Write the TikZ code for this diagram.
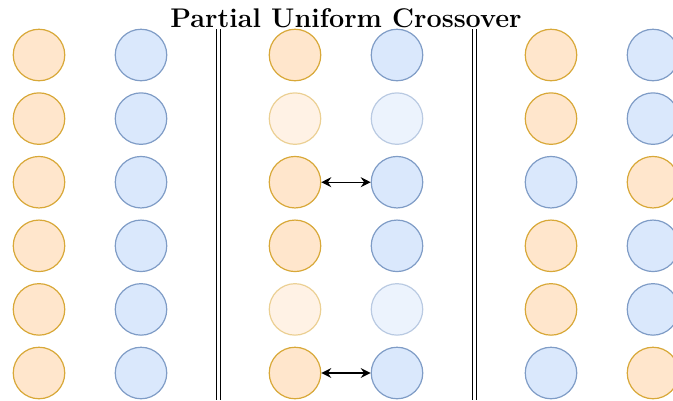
\documentclass[tikz,border=0pt]{standalone}
\usetikzlibrary{arrows.meta}
\definecolor{orfill}{HTML}{FFE6CC}
\definecolor{ordraw}{HTML}{D8A838}
\definecolor{blfill}{HTML}{DAE8FC}
\definecolor{bldraw}{HTML}{7F9CC6}
\tikzset{
  gene/.style={circle, minimum size=51.5pt, inner sep=0pt, line width=1.2pt},
  og/.style={gene, fill=orfill, draw=ordraw},
  bg/.style={gene, fill=blfill, draw=bldraw},
  faded/.style={opacity=0.5},
  swap/.style={{Stealth[length=10pt,width=10pt,inset=3.5pt]}-{Stealth[length=10pt,width=10pt,inset=3.5pt]}, line width=1.1pt, black},
  divider/.style={line width=0.9pt, black},
}
\begin{document}
\begin{tikzpicture}[x=1pt,y=-1pt]
  \useasboundingbox (0,0) rectangle (673,400);
  % parent chromosomes
  \foreach \y [count=\i] in {55,118.6,182.2,245.8,309.4,373} {
    \node[og] (a-\i) at (39,\y) {};
    \node[bg] (b-\i) at (141,\y) {};
  }
  % selection mask in the middle
  \foreach \y/\s [count=\i] in {55/,118.6/faded,182.2/,245.8/,309.4/faded,373/} {
    \node[og,\s] (c-\i) at (295,\y) {};
    \node[bg,\s] (d-\i) at (397,\y) {};
  }
  % offspring
  \foreach \y/\l/\r [count=\i] in {55/og/bg,118.6/og/bg,182.2/bg/og,245.8/og/bg,309.4/og/bg,373/bg/og} {
    \node[\l] (e-\i) at (551,\y) {};
    \node[\r] (f-\i) at (653,\y) {};
  }
  % exchanged genes
  \draw[swap] (c-3) -- (d-3);
  \draw[swap] (c-6) -- (d-6);
  % separators
  \draw[divider] (216,29) -- (216,400);
  \draw[divider] (220.5,29) -- (220.5,400);
  \draw[divider] (472,29) -- (472,400);
  \draw[divider] (476.5,29) -- (476.5,400);
  % title
  \node[font=\bfseries\fontsize{27}{30}\selectfont, inner sep=0pt, anchor=base] (title) at (346,27.5) {Partial Uniform Crossover};
\end{tikzpicture}
\end{document}
